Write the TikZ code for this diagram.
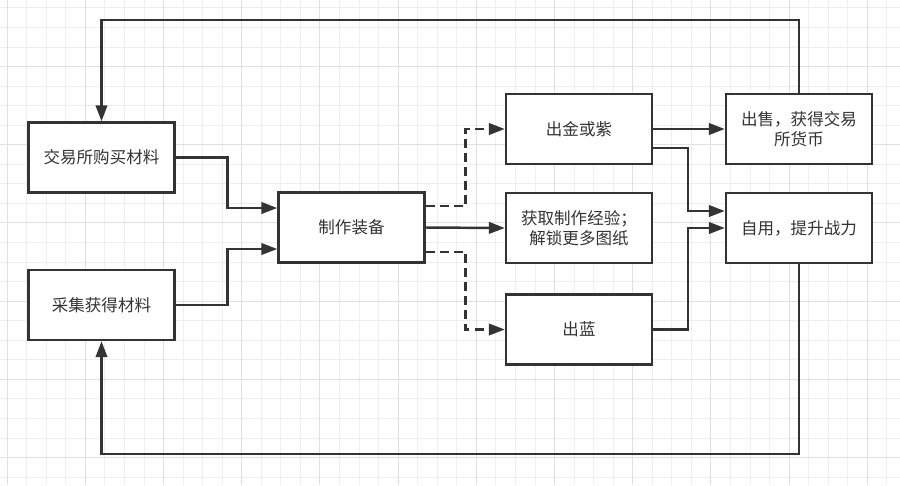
\documentclass[tikz,border=0pt]{standalone}
\usepackage{fontspec}
\setmainfont{Noto Sans CJK SC}
\usepackage{xcolor}
\usepackage{tikz}
\usetikzlibrary{arrows.meta,calc}
\definecolor{ink}{HTML}{333333}
\definecolor{gridminor}{HTML}{EFEFEF}
\definecolor{gridmajor}{HTML}{E0E0E0}

\begin{document}
\begin{tikzpicture}[x=0.02cm, y=-0.02cm,
  box/.style={draw=ink, line width=1.4pt, fill=white, align=center, minimum width=2.92cm, minimum height=1.4cm, inner sep=0pt, text=ink, font=\fontsize{9.4}{11.5}\selectfont},
  arr/.style={-{Triangle[length=0.32cm, width=0.23cm]}, draw=ink, line width=1.4pt},
  dasharr/.style={arr, dash pattern=on 5pt off 3pt}
]
\useasboundingbox[fill=white] (0,0) rectangle (900,485);
\foreach \k in {0,...,45} \draw[gridminor, line width=0.5pt] (7.1+19.55*\k,0) -- (7.1+19.55*\k,485);
\foreach \k in {0,...,24} \draw[gridminor, line width=0.5pt] (0,7.85+19.55*\k) -- (900,7.85+19.55*\k);
\foreach \k in {0,4,...,44} \draw[gridmajor, line width=0.6pt] (7.1+19.55*\k,0) -- (7.1+19.55*\k,485);
\foreach \k in {3,7,...,23} \draw[gridmajor, line width=0.6pt] (0,7.85+19.55*\k) -- (900,7.85+19.55*\k);

\node[box] (buy) at (101.5,157.5) {交易所购买材料};
\node[box] (gather) at (101.5,305) {采集获得材料};
\node[box] (craft) at (351.5,227.5) {制作装备};
\node[box] (gold) at (579,129) {出金或紫};
\node[box] (exp) at (579,228) {获取制作经验；\\解锁更多图纸};
\node[box] (blue) at (579,329.5) {出蓝};
\node[box] (sell) at (799,129) {出售，获得交易\\所货币};
\node[box] (use) at (799,228) {自用，提升战力};

\draw[arr] (buy.east) -- ++(52,0) |- ($(craft.west)+(0,-19.5)$); \draw[arr] (gather.east) -- ++(52,0) |- ($(craft.west)+(0,21.5)$);
\draw[dasharr] ($(craft.east)+(0,-21.5)$) -- ++(40,0) |- (gold.west); \draw[arr] (craft.east) -- (exp.west); \draw[dasharr] ($(craft.east)+(0,24.5)$) -- ++(40,0) |- (blue.west);
\draw[arr] (gold.east) -- (sell.west); \draw[arr] ($(gold.east)+(0,19)$) -- ++(35,0) |- ($(use.west)+(0,-17)$); \draw[arr] (blue.east) -- ++(35,0) |- (use.west);
\draw[arr] (sell.north) -- ++(0,-73) -| (buy.north); \draw[arr] (use.south) -- ++(0,190) -| (gather.south);
\end{tikzpicture}
\end{document}
